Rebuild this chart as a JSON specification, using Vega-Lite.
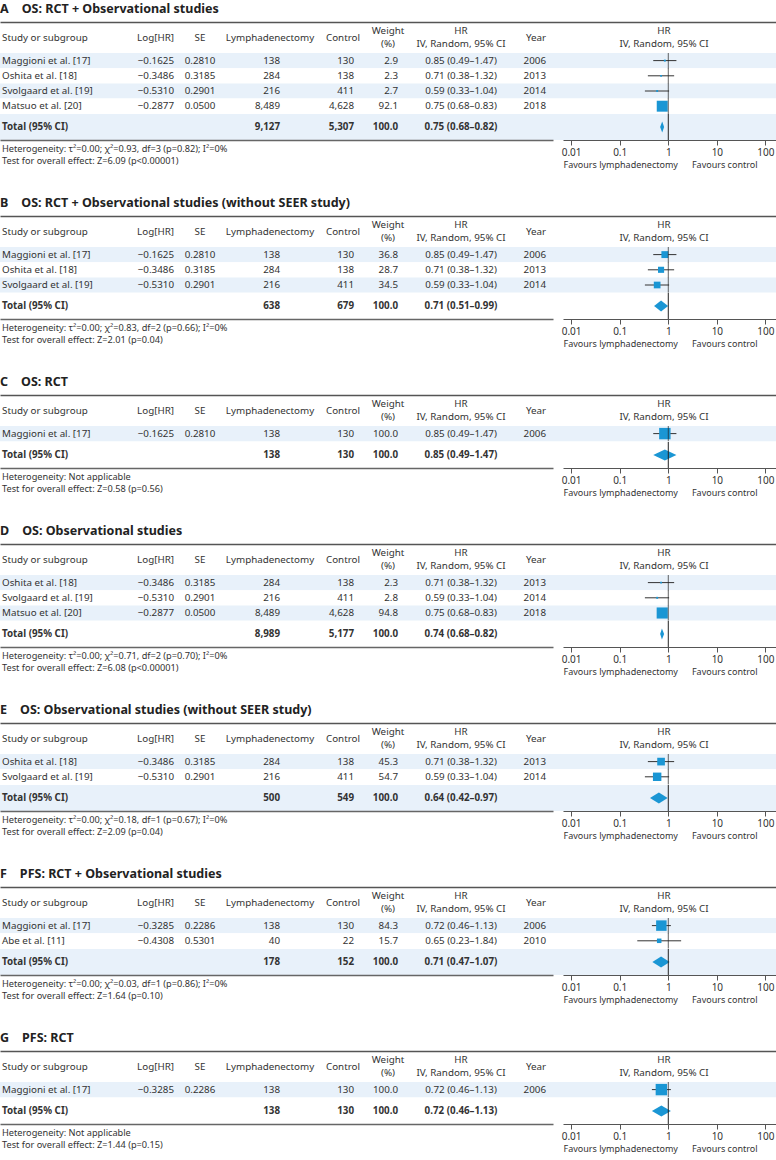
{
"$schema":"https://vega.github.io/schema/vega-lite/v6.json",
"padding":{"left":0,"top":2,"right":0,"bottom":0},
"background":"#ffffff",
"spacing":26,
"config":{
 "view":{"stroke":null},
 "text":{"font":"Noto Sans","fontSize":9.8,"color":"#333333","baseline":"middle","lineBreak":"\n","lineHeight":13},
 "title":{"font":"Noto Sans","fontSize":12.5,"fontWeight":"bold","color":"#222222","anchor":"start","offset":7},
 "axis":{"labelFont":"Noto Sans","titleFont":"Noto Sans","grid":false}
},
"datasets":{
 "hdr":[{"study":"Study or subgroup","loghr":"Log[HR]","se":"SE","n1":"Lymphadenectomy","n2":"Control","w":"Weight\n(%)","hrci":"HR\nIV, Random, 95% CI","year":"Year","plot":"HR\nIV, Random, 95% CI"}],
 "studies":[
  {"p":"A","i":1,"study":"Maggioni et al. [17]","loghr":-0.1625,"se":0.2810,"n1":138,"n2":130,"w":2.9,"hrci":"0.85 (0.49–1.47)","year":"2006","hr":0.85,"lo":0.49,"hi":1.47},
  {"p":"A","i":2,"study":"Oshita et al. [18]","loghr":-0.3486,"se":0.3185,"n1":284,"n2":138,"w":2.3,"hrci":"0.71 (0.38–1.32)","year":"2013","hr":0.71,"lo":0.38,"hi":1.32},
  {"p":"A","i":3,"study":"Svolgaard et al. [19]","loghr":-0.5310,"se":0.2901,"n1":216,"n2":411,"w":2.7,"hrci":"0.59 (0.33–1.04)","year":"2014","hr":0.59,"lo":0.33,"hi":1.04},
  {"p":"A","i":4,"study":"Matsuo et al. [20]","loghr":-0.2877,"se":0.0500,"n1":8489,"n2":4628,"w":92.1,"hrci":"0.75 (0.68–0.83)","year":"2018","hr":0.75,"lo":0.68,"hi":0.83},
  {"p":"B","i":1,"study":"Maggioni et al. [17]","loghr":-0.1625,"se":0.2810,"n1":138,"n2":130,"w":36.8,"hrci":"0.85 (0.49–1.47)","year":"2006","hr":0.85,"lo":0.49,"hi":1.47},
  {"p":"B","i":2,"study":"Oshita et al. [18]","loghr":-0.3486,"se":0.3185,"n1":284,"n2":138,"w":28.7,"hrci":"0.71 (0.38–1.32)","year":"2013","hr":0.71,"lo":0.38,"hi":1.32},
  {"p":"B","i":3,"study":"Svolgaard et al. [19]","loghr":-0.5310,"se":0.2901,"n1":216,"n2":411,"w":34.5,"hrci":"0.59 (0.33–1.04)","year":"2014","hr":0.59,"lo":0.33,"hi":1.04},
  {"p":"C","i":1,"study":"Maggioni et al. [17]","loghr":-0.1625,"se":0.2810,"n1":138,"n2":130,"w":100.0,"hrci":"0.85 (0.49–1.47)","year":"2006","hr":0.85,"lo":0.49,"hi":1.47},
  {"p":"D","i":1,"study":"Oshita et al. [18]","loghr":-0.3486,"se":0.3185,"n1":284,"n2":138,"w":2.3,"hrci":"0.71 (0.38–1.32)","year":"2013","hr":0.71,"lo":0.38,"hi":1.32},
  {"p":"D","i":2,"study":"Svolgaard et al. [19]","loghr":-0.5310,"se":0.2901,"n1":216,"n2":411,"w":2.8,"hrci":"0.59 (0.33–1.04)","year":"2014","hr":0.59,"lo":0.33,"hi":1.04},
  {"p":"D","i":3,"study":"Matsuo et al. [20]","loghr":-0.2877,"se":0.0500,"n1":8489,"n2":4628,"w":94.8,"hrci":"0.75 (0.68–0.83)","year":"2018","hr":0.75,"lo":0.68,"hi":0.83},
  {"p":"E","i":1,"study":"Oshita et al. [18]","loghr":-0.3486,"se":0.3185,"n1":284,"n2":138,"w":45.3,"hrci":"0.71 (0.38–1.32)","year":"2013","hr":0.71,"lo":0.38,"hi":1.32},
  {"p":"E","i":2,"study":"Svolgaard et al. [19]","loghr":-0.5310,"se":0.2901,"n1":216,"n2":411,"w":54.7,"hrci":"0.59 (0.33–1.04)","year":"2014","hr":0.59,"lo":0.33,"hi":1.04},
  {"p":"F","i":1,"study":"Maggioni et al. [17]","loghr":-0.3285,"se":0.2286,"n1":138,"n2":130,"w":84.3,"hrci":"0.72 (0.46–1.13)","year":"2006","hr":0.72,"lo":0.46,"hi":1.13},
  {"p":"F","i":2,"study":"Abe et al. [11]","loghr":-0.4308,"se":0.5301,"n1":40,"n2":22,"w":15.7,"hrci":"0.65 (0.23–1.84)","year":"2010","hr":0.65,"lo":0.23,"hi":1.84},
  {"p":"G","i":1,"study":"Maggioni et al. [17]","loghr":-0.3285,"se":0.2286,"n1":138,"n2":130,"w":100.0,"hrci":"0.72 (0.46–1.13)","year":"2006","hr":0.72,"lo":0.46,"hi":1.13}
 ],
 "totals":[
  {"p":"A","n1":9127,"n2":5307,"w":100,"hrci":"0.75 (0.68–0.82)","hr":0.75,"lo":0.68,"hi":0.82},
  {"p":"B","n1":638,"n2":679,"w":100,"hrci":"0.71 (0.51–0.99)","hr":0.71,"lo":0.51,"hi":0.99},
  {"p":"C","n1":138,"n2":130,"w":100,"hrci":"0.85 (0.49–1.47)","hr":0.85,"lo":0.49,"hi":1.47},
  {"p":"D","n1":8989,"n2":5177,"w":100,"hrci":"0.74 (0.68–0.82)","hr":0.74,"lo":0.68,"hi":0.82},
  {"p":"E","n1":500,"n2":549,"w":100,"hrci":"0.64 (0.42–0.97)","hr":0.64,"lo":0.42,"hi":0.97},
  {"p":"F","n1":178,"n2":152,"w":100,"hrci":"0.71 (0.47–1.07)","hr":0.71,"lo":0.47,"hi":1.07},
  {"p":"G","n1":138,"n2":130,"w":100,"hrci":"0.72 (0.46–1.13)","hr":0.72,"lo":0.46,"hi":1.13}
 ],
 "foot":[
  {"p":"A","het":"Heterogeneity: τ²=0.00; χ²=0.93, df=3 (p=0.82); I²=0%","test":"Test for overall effect: Z=6.09 (p<0.00001)"},
  {"p":"B","het":"Heterogeneity: τ²=0.00; χ²=0.83, df=2 (p=0.66); I²=0%","test":"Test for overall effect: Z=2.01 (p=0.04)"},
  {"p":"C","het":"Heterogeneity: Not applicable","test":"Test for overall effect: Z=0.58 (p=0.56)"},
  {"p":"D","het":"Heterogeneity: τ²=0.00; χ²=0.71, df=2 (p=0.70); I²=0%","test":"Test for overall effect: Z=6.08 (p<0.00001)"},
  {"p":"E","het":"Heterogeneity: τ²=0.00; χ²=0.18, df=1 (p=0.67); I²=0%","test":"Test for overall effect: Z=2.09 (p=0.04)"},
  {"p":"F","het":"Heterogeneity: τ²=0.00; χ²=0.03, df=1 (p=0.86); I²=0%","test":"Test for overall effect: Z=1.64 (p=0.10)"},
  {"p":"G","het":"Heterogeneity: Not applicable","test":"Test for overall effect: Z=1.44 (p=0.15)"}
 ]
},
"vconcat":[
{"spacing":0,"bounds":"flush","vconcat":[
 {"width":776,"height":31,"title":{"text":"A\u00a0\u00a0\u00a0\u00a0OS: RCT + Observational studies"},"data":{"name":"hdr"},"layer":[
  {"mark":{"type":"text","align":"left"},"encoding":{"x":{"datum":0,"type":"quantitative","scale":{"type":"linear","domain":[-1,0,1,2,3,4,5,6,7,8,9],"range":[0,2,174,200,280,354,398,461,546,664,776],"zero":false,"nice":false,"padding":0},"axis":{"orient":"top","domain":true,"labels":false,"ticks":false,"title":null,"domainColor":"#555555","domainWidth":1.5}},"text":{"field":"study"}}},
  {"mark":{"type":"text","align":"right"},"encoding":{"x":{"datum":1,"type":"quantitative"},"text":{"field":"loghr"}}},
  {"mark":{"type":"text","align":"center"},"encoding":{"x":{"datum":2,"type":"quantitative"},"text":{"field":"se"}}},
  {"mark":{"type":"text","align":"center","dx":-10},"encoding":{"x":{"datum":3,"type":"quantitative"},"text":{"field":"n1"}}},
  {"mark":{"type":"text","align":"right","dx":6},"encoding":{"x":{"datum":4,"type":"quantitative"},"text":{"field":"n2"}}},
  {"mark":{"type":"text","align":"center","dx":-10,"dy":-6.5},"encoding":{"x":{"datum":5,"type":"quantitative"},"text":{"field":"w"}}},
  {"mark":{"type":"text","align":"center","dy":-6.5},"encoding":{"x":{"datum":6,"type":"quantitative"},"text":{"field":"hrci"}}},
  {"mark":{"type":"text","align":"right"},"encoding":{"x":{"datum":7,"type":"quantitative"},"text":{"field":"year"}}},
  {"mark":{"type":"text","align":"center","dy":-6.5},"encoding":{"x":{"datum":8,"type":"quantitative"},"text":{"field":"plot"}}}
 ]},
 {"width":776,"height":{"step":15.2},"data":{"name":"studies"},"transform":[{"filter":"datum.p=='A'"}],
  "encoding":{"y":{"field":"study","type":"nominal","sort":null,"scale":{"type":"band","paddingInner":0,"paddingOuter":0},"axis":null}},
  "layer":[
   {"layer":[
    {"mark":{"type":"rect"},"encoding":{"x":{"datum":-1,"type":"quantitative","scale":{"type":"linear","domain":[-1,0,1,2,3,4,5,6,7,8,9],"range":[0,2,174,200,280,354,398,461,546,664,776],"zero":false,"nice":false,"padding":0},"axis":null},"x2":{"datum":9},"color":{"condition":{"test":"datum.i%2==1","value":"#e8f1fa"},"value":"#ffffff"}}},
    {"mark":{"type":"text","align":"left"},"encoding":{"x":{"datum":0,"type":"quantitative","axis":null},"text":{"field":"study"}}},
    {"mark":{"type":"text","align":"right"},"encoding":{"x":{"datum":1,"type":"quantitative","axis":null},"text":{"field":"loghr","type":"quantitative","format":".4f"}}},
    {"mark":{"type":"text","align":"center"},"encoding":{"x":{"datum":2,"type":"quantitative","axis":null},"text":{"field":"se","type":"quantitative","format":".4f"}}},
    {"mark":{"type":"text","align":"right"},"encoding":{"x":{"datum":3,"type":"quantitative","axis":null},"text":{"field":"n1","type":"quantitative","format":","}}},
    {"mark":{"type":"text","align":"right"},"encoding":{"x":{"datum":4,"type":"quantitative","axis":null},"text":{"field":"n2","type":"quantitative","format":","}}},
    {"mark":{"type":"text","align":"right"},"encoding":{"x":{"datum":5,"type":"quantitative","axis":null},"text":{"field":"w","type":"quantitative","format":".1f"}}},
    {"mark":{"type":"text","align":"center"},"encoding":{"x":{"datum":6,"type":"quantitative","axis":null},"text":{"field":"hrci"}}},
    {"mark":{"type":"text","align":"right"},"encoding":{"x":{"datum":7,"type":"quantitative","axis":null},"text":{"field":"year"}}}
   ]},
   {"layer":[
    {"mark":{"type":"rule","color":"#333333"},"encoding":{"x":{"field":"lo","type":"quantitative","scale":{"type":"log","domain":[0.0068,165],"range":[563,776],"nice":false,"padding":0},"axis":null},"x2":{"field":"hi"}}},
    {"mark":{"type":"point","shape":"square","filled":true,"opacity":1,"color":"#1a96d4","strokeWidth":0},"encoding":{"x":{"field":"hr","type":"quantitative","axis":null},"size":{"field":"w","type":"quantitative","scale":{"type":"linear","domain":[0,100],"range":[0,130]},"legend":null}}},
    {"mark":{"type":"tick","orient":"vertical","color":"#222222","thickness":1,"size":15.4},"encoding":{"x":{"datum":1,"type":"quantitative","axis":null}}}
   ]}
  ],
  "resolve":{"scale":{"x":"independent"}}},
 {"width":776,"height":26,"data":{"name":"totals"},"transform":[{"filter":"datum.p=='A'"}],
  "layer":[
   {"layer":[
    {"mark":{"type":"rect","color":"#e8f1fa"},"encoding":{"x":{"datum":-1,"type":"quantitative","axis":null},"x2":{"datum":9}}},
    {"mark":{"type":"text","align":"left","fontWeight":"bold"},"encoding":{"x":{"datum":0,"type":"quantitative","scale":{"type":"linear","domain":[-1,0,1,2,3,4,5,6,7,8,9],"range":[0,2,174,200,280,354,398,461,546,664,776],"zero":false,"nice":false,"padding":0},"axis":null},"text":{"value":"Total (95% CI)"}}},
    {"mark":{"type":"text","align":"right","fontWeight":"bold"},"encoding":{"x":{"datum":3,"type":"quantitative","axis":null},"text":{"field":"n1","type":"quantitative","format":","}}},
    {"mark":{"type":"text","align":"right","fontWeight":"bold"},"encoding":{"x":{"datum":4,"type":"quantitative","axis":null},"text":{"field":"n2","type":"quantitative","format":","}}},
    {"mark":{"type":"text","align":"right","fontWeight":"bold"},"encoding":{"x":{"datum":5,"type":"quantitative","axis":null},"text":{"field":"w","type":"quantitative","format":".1f"}}},
    {"mark":{"type":"text","align":"center","fontWeight":"bold"},"encoding":{"x":{"datum":6,"type":"quantitative","axis":null},"text":{"field":"hrci"}}}
   ]},
   {"layer":[
    {"transform":[{"fold":["lo","hr"],"as":["k","xa"]},{"fold":["hi","hr"],"as":["k2","xb"]},{"filter":"(datum.k=='lo'&&datum.k2=='hi')||(datum.k=='hr'&&datum.k2=='hr')"}],"mark":{"type":"area","orient":"horizontal","color":"#1a96d4","opacity":1},"encoding":{"y":{"field":"k","type":"nominal","scale":{"type":"point","domain":["hr","lo"],"range":[7.5,13],"padding":0},"axis":null},"x":{"field":"xa","type":"quantitative","scale":{"type":"log","domain":[0.0068,165],"range":[563,776],"nice":false,"padding":0}},"x2":{"field":"xb"}}},
    {"transform":[{"fold":["lo","hr"],"as":["k","xa"]},{"fold":["hi","hr"],"as":["k2","xb"]},{"filter":"(datum.k=='lo'&&datum.k2=='hi')||(datum.k=='hr'&&datum.k2=='hr')"}],"mark":{"type":"area","orient":"horizontal","color":"#1a96d4","opacity":1},"encoding":{"y":{"field":"k","type":"nominal","scale":{"type":"point","domain":["lo","hr"],"range":[13,18.5],"padding":0},"axis":null},"x":{"field":"xa","type":"quantitative"},"x2":{"field":"xb"}}},
    {"mark":{"type":"rule","color":"#222222"},"encoding":{"x":{"datum":1,"type":"quantitative","axis":{"orient":"bottom","values":[0.01,0.1,1,10,100],"format":"~g","domainColor":"#555555","domainWidth":1,"tickColor":"#555555","tickSize":5,"labelPadding":2,"labelFontSize":10,"labelColor":"#333333","labelFlush":false,"labelOverlap":false,"title":"Favours lymphadenectomy\u00a0\u00a0\u00a0\u00a0\u00a0\u00a0Favours control","titleFontSize":9,"titleFontWeight":"normal","titleColor":"#333333","titleAnchor":"start","titlePadding":3}}}}
   ],"resolve":{"scale":{"y":"independent"}}}
  ],
  "resolve":{"scale":{"x":"independent"}}},
 {"width":776,"height":30,"data":{"name":"foot"},"transform":[{"filter":"datum.p=='A'"}],
  "layer":[
   {"mark":{"type":"text","align":"left","fontSize":9.2},"encoding":{"x":{"datum":0,"type":"quantitative","scale":{"type":"linear","domain":[-1,0,1],"range":[0,2,553],"zero":false,"nice":false,"padding":0},"axis":{"orient":"top","domain":true,"labels":false,"ticks":false,"title":null,"domainColor":"#666666","domainWidth":1.5}},"y":{"datum":"het","type":"nominal","scale":{"type":"band","domain":["het","test"],"paddingInner":0,"paddingOuter":0.25},"axis":null},"text":{"field":"het"}}},
   {"mark":{"type":"text","align":"left","fontSize":9.2},"encoding":{"x":{"datum":0,"type":"quantitative"},"y":{"datum":"test","type":"nominal","axis":null},"text":{"field":"test"}}}
  ]}
]},
{"spacing":0,"bounds":"flush","vconcat":[
 {"width":776,"height":31,"title":{"text":"B\u00a0\u00a0\u00a0\u00a0OS: RCT + Observational studies (without SEER study)"},"data":{"name":"hdr"},"layer":[
  {"mark":{"type":"text","align":"left"},"encoding":{"x":{"datum":0,"type":"quantitative","scale":{"type":"linear","domain":[-1,0,1,2,3,4,5,6,7,8,9],"range":[0,2,174,200,280,354,398,461,546,664,776],"zero":false,"nice":false,"padding":0},"axis":{"orient":"top","domain":true,"labels":false,"ticks":false,"title":null,"domainColor":"#555555","domainWidth":1.5}},"text":{"field":"study"}}},
  {"mark":{"type":"text","align":"right"},"encoding":{"x":{"datum":1,"type":"quantitative"},"text":{"field":"loghr"}}},
  {"mark":{"type":"text","align":"center"},"encoding":{"x":{"datum":2,"type":"quantitative"},"text":{"field":"se"}}},
  {"mark":{"type":"text","align":"center","dx":-10},"encoding":{"x":{"datum":3,"type":"quantitative"},"text":{"field":"n1"}}},
  {"mark":{"type":"text","align":"right","dx":6},"encoding":{"x":{"datum":4,"type":"quantitative"},"text":{"field":"n2"}}},
  {"mark":{"type":"text","align":"center","dx":-10,"dy":-6.5},"encoding":{"x":{"datum":5,"type":"quantitative"},"text":{"field":"w"}}},
  {"mark":{"type":"text","align":"center","dy":-6.5},"encoding":{"x":{"datum":6,"type":"quantitative"},"text":{"field":"hrci"}}},
  {"mark":{"type":"text","align":"right"},"encoding":{"x":{"datum":7,"type":"quantitative"},"text":{"field":"year"}}},
  {"mark":{"type":"text","align":"center","dy":-6.5},"encoding":{"x":{"datum":8,"type":"quantitative"},"text":{"field":"plot"}}}
 ]},
 {"width":776,"height":{"step":15.2},"data":{"name":"studies"},"transform":[{"filter":"datum.p=='B'"}],
  "encoding":{"y":{"field":"study","type":"nominal","sort":null,"scale":{"type":"band","paddingInner":0,"paddingOuter":0},"axis":null}},
  "layer":[
   {"layer":[
    {"mark":{"type":"rect"},"encoding":{"x":{"datum":-1,"type":"quantitative","scale":{"type":"linear","domain":[-1,0,1,2,3,4,5,6,7,8,9],"range":[0,2,174,200,280,354,398,461,546,664,776],"zero":false,"nice":false,"padding":0},"axis":null},"x2":{"datum":9},"color":{"condition":{"test":"datum.i%2==1","value":"#e8f1fa"},"value":"#ffffff"}}},
    {"mark":{"type":"text","align":"left"},"encoding":{"x":{"datum":0,"type":"quantitative","axis":null},"text":{"field":"study"}}},
    {"mark":{"type":"text","align":"right"},"encoding":{"x":{"datum":1,"type":"quantitative","axis":null},"text":{"field":"loghr","type":"quantitative","format":".4f"}}},
    {"mark":{"type":"text","align":"center"},"encoding":{"x":{"datum":2,"type":"quantitative","axis":null},"text":{"field":"se","type":"quantitative","format":".4f"}}},
    {"mark":{"type":"text","align":"right"},"encoding":{"x":{"datum":3,"type":"quantitative","axis":null},"text":{"field":"n1","type":"quantitative","format":","}}},
    {"mark":{"type":"text","align":"right"},"encoding":{"x":{"datum":4,"type":"quantitative","axis":null},"text":{"field":"n2","type":"quantitative","format":","}}},
    {"mark":{"type":"text","align":"right"},"encoding":{"x":{"datum":5,"type":"quantitative","axis":null},"text":{"field":"w","type":"quantitative","format":".1f"}}},
    {"mark":{"type":"text","align":"center"},"encoding":{"x":{"datum":6,"type":"quantitative","axis":null},"text":{"field":"hrci"}}},
    {"mark":{"type":"text","align":"right"},"encoding":{"x":{"datum":7,"type":"quantitative","axis":null},"text":{"field":"year"}}}
   ]},
   {"layer":[
    {"mark":{"type":"rule","color":"#333333"},"encoding":{"x":{"field":"lo","type":"quantitative","scale":{"type":"log","domain":[0.0068,165],"range":[563,776],"nice":false,"padding":0},"axis":null},"x2":{"field":"hi"}}},
    {"mark":{"type":"point","shape":"square","filled":true,"opacity":1,"color":"#1a96d4","strokeWidth":0},"encoding":{"x":{"field":"hr","type":"quantitative","axis":null},"size":{"field":"w","type":"quantitative","scale":{"type":"linear","domain":[0,100],"range":[0,130]},"legend":null}}},
    {"mark":{"type":"tick","orient":"vertical","color":"#222222","thickness":1,"size":15.4},"encoding":{"x":{"datum":1,"type":"quantitative","axis":null}}}
   ]}
  ],
  "resolve":{"scale":{"x":"independent"}}},
 {"width":776,"height":26,"data":{"name":"totals"},"transform":[{"filter":"datum.p=='B'"}],
  "layer":[
   {"layer":[
    {"mark":{"type":"text","align":"left","fontWeight":"bold"},"encoding":{"x":{"datum":0,"type":"quantitative","scale":{"type":"linear","domain":[-1,0,1,2,3,4,5,6,7,8,9],"range":[0,2,174,200,280,354,398,461,546,664,776],"zero":false,"nice":false,"padding":0},"axis":null},"text":{"value":"Total (95% CI)"}}},
    {"mark":{"type":"text","align":"right","fontWeight":"bold"},"encoding":{"x":{"datum":3,"type":"quantitative","axis":null},"text":{"field":"n1","type":"quantitative","format":","}}},
    {"mark":{"type":"text","align":"right","fontWeight":"bold"},"encoding":{"x":{"datum":4,"type":"quantitative","axis":null},"text":{"field":"n2","type":"quantitative","format":","}}},
    {"mark":{"type":"text","align":"right","fontWeight":"bold"},"encoding":{"x":{"datum":5,"type":"quantitative","axis":null},"text":{"field":"w","type":"quantitative","format":".1f"}}},
    {"mark":{"type":"text","align":"center","fontWeight":"bold"},"encoding":{"x":{"datum":6,"type":"quantitative","axis":null},"text":{"field":"hrci"}}}
   ]},
   {"layer":[
    {"transform":[{"fold":["lo","hr"],"as":["k","xa"]},{"fold":["hi","hr"],"as":["k2","xb"]},{"filter":"(datum.k=='lo'&&datum.k2=='hi')||(datum.k=='hr'&&datum.k2=='hr')"}],"mark":{"type":"area","orient":"horizontal","color":"#1a96d4","opacity":1},"encoding":{"y":{"field":"k","type":"nominal","scale":{"type":"point","domain":["hr","lo"],"range":[7.5,13],"padding":0},"axis":null},"x":{"field":"xa","type":"quantitative","scale":{"type":"log","domain":[0.0068,165],"range":[563,776],"nice":false,"padding":0}},"x2":{"field":"xb"}}},
    {"transform":[{"fold":["lo","hr"],"as":["k","xa"]},{"fold":["hi","hr"],"as":["k2","xb"]},{"filter":"(datum.k=='lo'&&datum.k2=='hi')||(datum.k=='hr'&&datum.k2=='hr')"}],"mark":{"type":"area","orient":"horizontal","color":"#1a96d4","opacity":1},"encoding":{"y":{"field":"k","type":"nominal","scale":{"type":"point","domain":["lo","hr"],"range":[13,18.5],"padding":0},"axis":null},"x":{"field":"xa","type":"quantitative"},"x2":{"field":"xb"}}},
    {"mark":{"type":"rule","color":"#222222"},"encoding":{"x":{"datum":1,"type":"quantitative","axis":{"orient":"bottom","values":[0.01,0.1,1,10,100],"format":"~g","domainColor":"#555555","domainWidth":1,"tickColor":"#555555","tickSize":5,"labelPadding":2,"labelFontSize":10,"labelColor":"#333333","labelFlush":false,"labelOverlap":false,"title":"Favours lymphadenectomy\u00a0\u00a0\u00a0\u00a0\u00a0\u00a0Favours control","titleFontSize":9,"titleFontWeight":"normal","titleColor":"#333333","titleAnchor":"start","titlePadding":3}}}}
   ],"resolve":{"scale":{"y":"independent"}}}
  ],
  "resolve":{"scale":{"x":"independent"}}},
 {"width":776,"height":30,"data":{"name":"foot"},"transform":[{"filter":"datum.p=='B'"}],
  "layer":[
   {"mark":{"type":"text","align":"left","fontSize":9.2},"encoding":{"x":{"datum":0,"type":"quantitative","scale":{"type":"linear","domain":[-1,0,1],"range":[0,2,553],"zero":false,"nice":false,"padding":0},"axis":{"orient":"top","domain":true,"labels":false,"ticks":false,"title":null,"domainColor":"#666666","domainWidth":1.5}},"y":{"datum":"het","type":"nominal","scale":{"type":"band","domain":["het","test"],"paddingInner":0,"paddingOuter":0.25},"axis":null},"text":{"field":"het"}}},
   {"mark":{"type":"text","align":"left","fontSize":9.2},"encoding":{"x":{"datum":0,"type":"quantitative"},"y":{"datum":"test","type":"nominal","axis":null},"text":{"field":"test"}}}
  ]}
]},
{"spacing":0,"bounds":"flush","vconcat":[
 {"width":776,"height":31,"title":{"text":"C\u00a0\u00a0\u00a0\u00a0OS: RCT"},"data":{"name":"hdr"},"layer":[
  {"mark":{"type":"text","align":"left"},"encoding":{"x":{"datum":0,"type":"quantitative","scale":{"type":"linear","domain":[-1,0,1,2,3,4,5,6,7,8,9],"range":[0,2,174,200,280,354,398,461,546,664,776],"zero":false,"nice":false,"padding":0},"axis":{"orient":"top","domain":true,"labels":false,"ticks":false,"title":null,"domainColor":"#555555","domainWidth":1.5}},"text":{"field":"study"}}},
  {"mark":{"type":"text","align":"right"},"encoding":{"x":{"datum":1,"type":"quantitative"},"text":{"field":"loghr"}}},
  {"mark":{"type":"text","align":"center"},"encoding":{"x":{"datum":2,"type":"quantitative"},"text":{"field":"se"}}},
  {"mark":{"type":"text","align":"center","dx":-10},"encoding":{"x":{"datum":3,"type":"quantitative"},"text":{"field":"n1"}}},
  {"mark":{"type":"text","align":"right","dx":6},"encoding":{"x":{"datum":4,"type":"quantitative"},"text":{"field":"n2"}}},
  {"mark":{"type":"text","align":"center","dx":-10,"dy":-6.5},"encoding":{"x":{"datum":5,"type":"quantitative"},"text":{"field":"w"}}},
  {"mark":{"type":"text","align":"center","dy":-6.5},"encoding":{"x":{"datum":6,"type":"quantitative"},"text":{"field":"hrci"}}},
  {"mark":{"type":"text","align":"right"},"encoding":{"x":{"datum":7,"type":"quantitative"},"text":{"field":"year"}}},
  {"mark":{"type":"text","align":"center","dy":-6.5},"encoding":{"x":{"datum":8,"type":"quantitative"},"text":{"field":"plot"}}}
 ]},
 {"width":776,"height":{"step":15.2},"data":{"name":"studies"},"transform":[{"filter":"datum.p=='C'"}],
  "encoding":{"y":{"field":"study","type":"nominal","sort":null,"scale":{"type":"band","paddingInner":0,"paddingOuter":0},"axis":null}},
  "layer":[
   {"layer":[
    {"mark":{"type":"rect"},"encoding":{"x":{"datum":-1,"type":"quantitative","scale":{"type":"linear","domain":[-1,0,1,2,3,4,5,6,7,8,9],"range":[0,2,174,200,280,354,398,461,546,664,776],"zero":false,"nice":false,"padding":0},"axis":null},"x2":{"datum":9},"color":{"condition":{"test":"datum.i%2==1","value":"#e8f1fa"},"value":"#ffffff"}}},
    {"mark":{"type":"text","align":"left"},"encoding":{"x":{"datum":0,"type":"quantitative","axis":null},"text":{"field":"study"}}},
    {"mark":{"type":"text","align":"right"},"encoding":{"x":{"datum":1,"type":"quantitative","axis":null},"text":{"field":"loghr","type":"quantitative","format":".4f"}}},
    {"mark":{"type":"text","align":"center"},"encoding":{"x":{"datum":2,"type":"quantitative","axis":null},"text":{"field":"se","type":"quantitative","format":".4f"}}},
    {"mark":{"type":"text","align":"right"},"encoding":{"x":{"datum":3,"type":"quantitative","axis":null},"text":{"field":"n1","type":"quantitative","format":","}}},
    {"mark":{"type":"text","align":"right"},"encoding":{"x":{"datum":4,"type":"quantitative","axis":null},"text":{"field":"n2","type":"quantitative","format":","}}},
    {"mark":{"type":"text","align":"right"},"encoding":{"x":{"datum":5,"type":"quantitative","axis":null},"text":{"field":"w","type":"quantitative","format":".1f"}}},
    {"mark":{"type":"text","align":"center"},"encoding":{"x":{"datum":6,"type":"quantitative","axis":null},"text":{"field":"hrci"}}},
    {"mark":{"type":"text","align":"right"},"encoding":{"x":{"datum":7,"type":"quantitative","axis":null},"text":{"field":"year"}}}
   ]},
   {"layer":[
    {"mark":{"type":"rule","color":"#333333"},"encoding":{"x":{"field":"lo","type":"quantitative","scale":{"type":"log","domain":[0.0068,165],"range":[563,776],"nice":false,"padding":0},"axis":null},"x2":{"field":"hi"}}},
    {"mark":{"type":"point","shape":"square","filled":true,"opacity":1,"color":"#1a96d4","strokeWidth":0},"encoding":{"x":{"field":"hr","type":"quantitative","axis":null},"size":{"field":"w","type":"quantitative","scale":{"type":"linear","domain":[0,100],"range":[0,130]},"legend":null}}},
    {"mark":{"type":"tick","orient":"vertical","color":"#222222","thickness":1,"size":15.4},"encoding":{"x":{"datum":1,"type":"quantitative","axis":null}}}
   ]}
  ],
  "resolve":{"scale":{"x":"independent"}}},
 {"width":776,"height":26,"data":{"name":"totals"},"transform":[{"filter":"datum.p=='C'"}],
  "layer":[
   {"layer":[
    {"mark":{"type":"text","align":"left","fontWeight":"bold"},"encoding":{"x":{"datum":0,"type":"quantitative","scale":{"type":"linear","domain":[-1,0,1,2,3,4,5,6,7,8,9],"range":[0,2,174,200,280,354,398,461,546,664,776],"zero":false,"nice":false,"padding":0},"axis":null},"text":{"value":"Total (95% CI)"}}},
    {"mark":{"type":"text","align":"right","fontWeight":"bold"},"encoding":{"x":{"datum":3,"type":"quantitative","axis":null},"text":{"field":"n1","type":"quantitative","format":","}}},
    {"mark":{"type":"text","align":"right","fontWeight":"bold"},"encoding":{"x":{"datum":4,"type":"quantitative","axis":null},"text":{"field":"n2","type":"quantitative","format":","}}},
    {"mark":{"type":"text","align":"right","fontWeight":"bold"},"encoding":{"x":{"datum":5,"type":"quantitative","axis":null},"text":{"field":"w","type":"quantitative","format":".1f"}}},
    {"mark":{"type":"text","align":"center","fontWeight":"bold"},"encoding":{"x":{"datum":6,"type":"quantitative","axis":null},"text":{"field":"hrci"}}}
   ]},
   {"layer":[
    {"transform":[{"fold":["lo","hr"],"as":["k","xa"]},{"fold":["hi","hr"],"as":["k2","xb"]},{"filter":"(datum.k=='lo'&&datum.k2=='hi')||(datum.k=='hr'&&datum.k2=='hr')"}],"mark":{"type":"area","orient":"horizontal","color":"#1a96d4","opacity":1},"encoding":{"y":{"field":"k","type":"nominal","scale":{"type":"point","domain":["hr","lo"],"range":[7.5,13],"padding":0},"axis":null},"x":{"field":"xa","type":"quantitative","scale":{"type":"log","domain":[0.0068,165],"range":[563,776],"nice":false,"padding":0}},"x2":{"field":"xb"}}},
    {"transform":[{"fold":["lo","hr"],"as":["k","xa"]},{"fold":["hi","hr"],"as":["k2","xb"]},{"filter":"(datum.k=='lo'&&datum.k2=='hi')||(datum.k=='hr'&&datum.k2=='hr')"}],"mark":{"type":"area","orient":"horizontal","color":"#1a96d4","opacity":1},"encoding":{"y":{"field":"k","type":"nominal","scale":{"type":"point","domain":["lo","hr"],"range":[13,18.5],"padding":0},"axis":null},"x":{"field":"xa","type":"quantitative"},"x2":{"field":"xb"}}},
    {"mark":{"type":"rule","color":"#222222"},"encoding":{"x":{"datum":1,"type":"quantitative","axis":{"orient":"bottom","values":[0.01,0.1,1,10,100],"format":"~g","domainColor":"#555555","domainWidth":1,"tickColor":"#555555","tickSize":5,"labelPadding":2,"labelFontSize":10,"labelColor":"#333333","labelFlush":false,"labelOverlap":false,"title":"Favours lymphadenectomy\u00a0\u00a0\u00a0\u00a0\u00a0\u00a0Favours control","titleFontSize":9,"titleFontWeight":"normal","titleColor":"#333333","titleAnchor":"start","titlePadding":3}}}}
   ],"resolve":{"scale":{"y":"independent"}}}
  ],
  "resolve":{"scale":{"x":"independent"}}},
 {"width":776,"height":30,"data":{"name":"foot"},"transform":[{"filter":"datum.p=='C'"}],
  "layer":[
   {"mark":{"type":"text","align":"left","fontSize":9.2},"encoding":{"x":{"datum":0,"type":"quantitative","scale":{"type":"linear","domain":[-1,0,1],"range":[0,2,553],"zero":false,"nice":false,"padding":0},"axis":{"orient":"top","domain":true,"labels":false,"ticks":false,"title":null,"domainColor":"#666666","domainWidth":1.5}},"y":{"datum":"het","type":"nominal","scale":{"type":"band","domain":["het","test"],"paddingInner":0,"paddingOuter":0.25},"axis":null},"text":{"field":"het"}}},
   {"mark":{"type":"text","align":"left","fontSize":9.2},"encoding":{"x":{"datum":0,"type":"quantitative"},"y":{"datum":"test","type":"nominal","axis":null},"text":{"field":"test"}}}
  ]}
]},
{"spacing":0,"bounds":"flush","vconcat":[
 {"width":776,"height":31,"title":{"text":"D\u00a0\u00a0\u00a0\u00a0OS: Observational studies"},"data":{"name":"hdr"},"layer":[
  {"mark":{"type":"text","align":"left"},"encoding":{"x":{"datum":0,"type":"quantitative","scale":{"type":"linear","domain":[-1,0,1,2,3,4,5,6,7,8,9],"range":[0,2,174,200,280,354,398,461,546,664,776],"zero":false,"nice":false,"padding":0},"axis":{"orient":"top","domain":true,"labels":false,"ticks":false,"title":null,"domainColor":"#555555","domainWidth":1.5}},"text":{"field":"study"}}},
  {"mark":{"type":"text","align":"right"},"encoding":{"x":{"datum":1,"type":"quantitative"},"text":{"field":"loghr"}}},
  {"mark":{"type":"text","align":"center"},"encoding":{"x":{"datum":2,"type":"quantitative"},"text":{"field":"se"}}},
  {"mark":{"type":"text","align":"center","dx":-10},"encoding":{"x":{"datum":3,"type":"quantitative"},"text":{"field":"n1"}}},
  {"mark":{"type":"text","align":"right","dx":6},"encoding":{"x":{"datum":4,"type":"quantitative"},"text":{"field":"n2"}}},
  {"mark":{"type":"text","align":"center","dx":-10,"dy":-6.5},"encoding":{"x":{"datum":5,"type":"quantitative"},"text":{"field":"w"}}},
  {"mark":{"type":"text","align":"center","dy":-6.5},"encoding":{"x":{"datum":6,"type":"quantitative"},"text":{"field":"hrci"}}},
  {"mark":{"type":"text","align":"right"},"encoding":{"x":{"datum":7,"type":"quantitative"},"text":{"field":"year"}}},
  {"mark":{"type":"text","align":"center","dy":-6.5},"encoding":{"x":{"datum":8,"type":"quantitative"},"text":{"field":"plot"}}}
 ]},
 {"width":776,"height":{"step":15.2},"data":{"name":"studies"},"transform":[{"filter":"datum.p=='D'"}],
  "encoding":{"y":{"field":"study","type":"nominal","sort":null,"scale":{"type":"band","paddingInner":0,"paddingOuter":0},"axis":null}},
  "layer":[
   {"layer":[
    {"mark":{"type":"rect"},"encoding":{"x":{"datum":-1,"type":"quantitative","scale":{"type":"linear","domain":[-1,0,1,2,3,4,5,6,7,8,9],"range":[0,2,174,200,280,354,398,461,546,664,776],"zero":false,"nice":false,"padding":0},"axis":null},"x2":{"datum":9},"color":{"condition":{"test":"datum.i%2==1","value":"#e8f1fa"},"value":"#ffffff"}}},
    {"mark":{"type":"text","align":"left"},"encoding":{"x":{"datum":0,"type":"quantitative","axis":null},"text":{"field":"study"}}},
    {"mark":{"type":"text","align":"right"},"encoding":{"x":{"datum":1,"type":"quantitative","axis":null},"text":{"field":"loghr","type":"quantitative","format":".4f"}}},
    {"mark":{"type":"text","align":"center"},"encoding":{"x":{"datum":2,"type":"quantitative","axis":null},"text":{"field":"se","type":"quantitative","format":".4f"}}},
    {"mark":{"type":"text","align":"right"},"encoding":{"x":{"datum":3,"type":"quantitative","axis":null},"text":{"field":"n1","type":"quantitative","format":","}}},
    {"mark":{"type":"text","align":"right"},"encoding":{"x":{"datum":4,"type":"quantitative","axis":null},"text":{"field":"n2","type":"quantitative","format":","}}},
    {"mark":{"type":"text","align":"right"},"encoding":{"x":{"datum":5,"type":"quantitative","axis":null},"text":{"field":"w","type":"quantitative","format":".1f"}}},
    {"mark":{"type":"text","align":"center"},"encoding":{"x":{"datum":6,"type":"quantitative","axis":null},"text":{"field":"hrci"}}},
    {"mark":{"type":"text","align":"right"},"encoding":{"x":{"datum":7,"type":"quantitative","axis":null},"text":{"field":"year"}}}
   ]},
   {"layer":[
    {"mark":{"type":"rule","color":"#333333"},"encoding":{"x":{"field":"lo","type":"quantitative","scale":{"type":"log","domain":[0.0068,165],"range":[563,776],"nice":false,"padding":0},"axis":null},"x2":{"field":"hi"}}},
    {"mark":{"type":"point","shape":"square","filled":true,"opacity":1,"color":"#1a96d4","strokeWidth":0},"encoding":{"x":{"field":"hr","type":"quantitative","axis":null},"size":{"field":"w","type":"quantitative","scale":{"type":"linear","domain":[0,100],"range":[0,130]},"legend":null}}},
    {"mark":{"type":"tick","orient":"vertical","color":"#222222","thickness":1,"size":15.4},"encoding":{"x":{"datum":1,"type":"quantitative","axis":null}}}
   ]}
  ],
  "resolve":{"scale":{"x":"independent"}}},
 {"width":776,"height":26,"data":{"name":"totals"},"transform":[{"filter":"datum.p=='D'"}],
  "layer":[
   {"layer":[
    {"mark":{"type":"text","align":"left","fontWeight":"bold"},"encoding":{"x":{"datum":0,"type":"quantitative","scale":{"type":"linear","domain":[-1,0,1,2,3,4,5,6,7,8,9],"range":[0,2,174,200,280,354,398,461,546,664,776],"zero":false,"nice":false,"padding":0},"axis":null},"text":{"value":"Total (95% CI)"}}},
    {"mark":{"type":"text","align":"right","fontWeight":"bold"},"encoding":{"x":{"datum":3,"type":"quantitative","axis":null},"text":{"field":"n1","type":"quantitative","format":","}}},
    {"mark":{"type":"text","align":"right","fontWeight":"bold"},"encoding":{"x":{"datum":4,"type":"quantitative","axis":null},"text":{"field":"n2","type":"quantitative","format":","}}},
    {"mark":{"type":"text","align":"right","fontWeight":"bold"},"encoding":{"x":{"datum":5,"type":"quantitative","axis":null},"text":{"field":"w","type":"quantitative","format":".1f"}}},
    {"mark":{"type":"text","align":"center","fontWeight":"bold"},"encoding":{"x":{"datum":6,"type":"quantitative","axis":null},"text":{"field":"hrci"}}}
   ]},
   {"layer":[
    {"transform":[{"fold":["lo","hr"],"as":["k","xa"]},{"fold":["hi","hr"],"as":["k2","xb"]},{"filter":"(datum.k=='lo'&&datum.k2=='hi')||(datum.k=='hr'&&datum.k2=='hr')"}],"mark":{"type":"area","orient":"horizontal","color":"#1a96d4","opacity":1},"encoding":{"y":{"field":"k","type":"nominal","scale":{"type":"point","domain":["hr","lo"],"range":[7.5,13],"padding":0},"axis":null},"x":{"field":"xa","type":"quantitative","scale":{"type":"log","domain":[0.0068,165],"range":[563,776],"nice":false,"padding":0}},"x2":{"field":"xb"}}},
    {"transform":[{"fold":["lo","hr"],"as":["k","xa"]},{"fold":["hi","hr"],"as":["k2","xb"]},{"filter":"(datum.k=='lo'&&datum.k2=='hi')||(datum.k=='hr'&&datum.k2=='hr')"}],"mark":{"type":"area","orient":"horizontal","color":"#1a96d4","opacity":1},"encoding":{"y":{"field":"k","type":"nominal","scale":{"type":"point","domain":["lo","hr"],"range":[13,18.5],"padding":0},"axis":null},"x":{"field":"xa","type":"quantitative"},"x2":{"field":"xb"}}},
    {"mark":{"type":"rule","color":"#222222"},"encoding":{"x":{"datum":1,"type":"quantitative","axis":{"orient":"bottom","values":[0.01,0.1,1,10,100],"format":"~g","domainColor":"#555555","domainWidth":1,"tickColor":"#555555","tickSize":5,"labelPadding":2,"labelFontSize":10,"labelColor":"#333333","labelFlush":false,"labelOverlap":false,"title":"Favours lymphadenectomy\u00a0\u00a0\u00a0\u00a0\u00a0\u00a0Favours control","titleFontSize":9,"titleFontWeight":"normal","titleColor":"#333333","titleAnchor":"start","titlePadding":3}}}}
   ],"resolve":{"scale":{"y":"independent"}}}
  ],
  "resolve":{"scale":{"x":"independent"}}},
 {"width":776,"height":30,"data":{"name":"foot"},"transform":[{"filter":"datum.p=='D'"}],
  "layer":[
   {"mark":{"type":"text","align":"left","fontSize":9.2},"encoding":{"x":{"datum":0,"type":"quantitative","scale":{"type":"linear","domain":[-1,0,1],"range":[0,2,553],"zero":false,"nice":false,"padding":0},"axis":{"orient":"top","domain":true,"labels":false,"ticks":false,"title":null,"domainColor":"#666666","domainWidth":1.5}},"y":{"datum":"het","type":"nominal","scale":{"type":"band","domain":["het","test"],"paddingInner":0,"paddingOuter":0.25},"axis":null},"text":{"field":"het"}}},
   {"mark":{"type":"text","align":"left","fontSize":9.2},"encoding":{"x":{"datum":0,"type":"quantitative"},"y":{"datum":"test","type":"nominal","axis":null},"text":{"field":"test"}}}
  ]}
]},
{"spacing":0,"bounds":"flush","vconcat":[
 {"width":776,"height":31,"title":{"text":"E\u00a0\u00a0\u00a0\u00a0OS: Observational studies (without SEER study)"},"data":{"name":"hdr"},"layer":[
  {"mark":{"type":"text","align":"left"},"encoding":{"x":{"datum":0,"type":"quantitative","scale":{"type":"linear","domain":[-1,0,1,2,3,4,5,6,7,8,9],"range":[0,2,174,200,280,354,398,461,546,664,776],"zero":false,"nice":false,"padding":0},"axis":{"orient":"top","domain":true,"labels":false,"ticks":false,"title":null,"domainColor":"#555555","domainWidth":1.5}},"text":{"field":"study"}}},
  {"mark":{"type":"text","align":"right"},"encoding":{"x":{"datum":1,"type":"quantitative"},"text":{"field":"loghr"}}},
  {"mark":{"type":"text","align":"center"},"encoding":{"x":{"datum":2,"type":"quantitative"},"text":{"field":"se"}}},
  {"mark":{"type":"text","align":"center","dx":-10},"encoding":{"x":{"datum":3,"type":"quantitative"},"text":{"field":"n1"}}},
  {"mark":{"type":"text","align":"right","dx":6},"encoding":{"x":{"datum":4,"type":"quantitative"},"text":{"field":"n2"}}},
  {"mark":{"type":"text","align":"center","dx":-10,"dy":-6.5},"encoding":{"x":{"datum":5,"type":"quantitative"},"text":{"field":"w"}}},
  {"mark":{"type":"text","align":"center","dy":-6.5},"encoding":{"x":{"datum":6,"type":"quantitative"},"text":{"field":"hrci"}}},
  {"mark":{"type":"text","align":"right"},"encoding":{"x":{"datum":7,"type":"quantitative"},"text":{"field":"year"}}},
  {"mark":{"type":"text","align":"center","dy":-6.5},"encoding":{"x":{"datum":8,"type":"quantitative"},"text":{"field":"plot"}}}
 ]},
 {"width":776,"height":{"step":15.2},"data":{"name":"studies"},"transform":[{"filter":"datum.p=='E'"}],
  "encoding":{"y":{"field":"study","type":"nominal","sort":null,"scale":{"type":"band","paddingInner":0,"paddingOuter":0},"axis":null}},
  "layer":[
   {"layer":[
    {"mark":{"type":"rect"},"encoding":{"x":{"datum":-1,"type":"quantitative","scale":{"type":"linear","domain":[-1,0,1,2,3,4,5,6,7,8,9],"range":[0,2,174,200,280,354,398,461,546,664,776],"zero":false,"nice":false,"padding":0},"axis":null},"x2":{"datum":9},"color":{"condition":{"test":"datum.i%2==1","value":"#e8f1fa"},"value":"#ffffff"}}},
    {"mark":{"type":"text","align":"left"},"encoding":{"x":{"datum":0,"type":"quantitative","axis":null},"text":{"field":"study"}}},
    {"mark":{"type":"text","align":"right"},"encoding":{"x":{"datum":1,"type":"quantitative","axis":null},"text":{"field":"loghr","type":"quantitative","format":".4f"}}},
    {"mark":{"type":"text","align":"center"},"encoding":{"x":{"datum":2,"type":"quantitative","axis":null},"text":{"field":"se","type":"quantitative","format":".4f"}}},
    {"mark":{"type":"text","align":"right"},"encoding":{"x":{"datum":3,"type":"quantitative","axis":null},"text":{"field":"n1","type":"quantitative","format":","}}},
    {"mark":{"type":"text","align":"right"},"encoding":{"x":{"datum":4,"type":"quantitative","axis":null},"text":{"field":"n2","type":"quantitative","format":","}}},
    {"mark":{"type":"text","align":"right"},"encoding":{"x":{"datum":5,"type":"quantitative","axis":null},"text":{"field":"w","type":"quantitative","format":".1f"}}},
    {"mark":{"type":"text","align":"center"},"encoding":{"x":{"datum":6,"type":"quantitative","axis":null},"text":{"field":"hrci"}}},
    {"mark":{"type":"text","align":"right"},"encoding":{"x":{"datum":7,"type":"quantitative","axis":null},"text":{"field":"year"}}}
   ]},
   {"layer":[
    {"mark":{"type":"rule","color":"#333333"},"encoding":{"x":{"field":"lo","type":"quantitative","scale":{"type":"log","domain":[0.0068,165],"range":[563,776],"nice":false,"padding":0},"axis":null},"x2":{"field":"hi"}}},
    {"mark":{"type":"point","shape":"square","filled":true,"opacity":1,"color":"#1a96d4","strokeWidth":0},"encoding":{"x":{"field":"hr","type":"quantitative","axis":null},"size":{"field":"w","type":"quantitative","scale":{"type":"linear","domain":[0,100],"range":[0,130]},"legend":null}}},
    {"mark":{"type":"tick","orient":"vertical","color":"#222222","thickness":1,"size":15.4},"encoding":{"x":{"datum":1,"type":"quantitative","axis":null}}}
   ]}
  ],
  "resolve":{"scale":{"x":"independent"}}},
 {"width":776,"height":26,"data":{"name":"totals"},"transform":[{"filter":"datum.p=='E'"}],
  "layer":[
   {"layer":[
    {"mark":{"type":"rect","color":"#e8f1fa"},"encoding":{"x":{"datum":-1,"type":"quantitative","axis":null},"x2":{"datum":9}}},
    {"mark":{"type":"text","align":"left","fontWeight":"bold"},"encoding":{"x":{"datum":0,"type":"quantitative","scale":{"type":"linear","domain":[-1,0,1,2,3,4,5,6,7,8,9],"range":[0,2,174,200,280,354,398,461,546,664,776],"zero":false,"nice":false,"padding":0},"axis":null},"text":{"value":"Total (95% CI)"}}},
    {"mark":{"type":"text","align":"right","fontWeight":"bold"},"encoding":{"x":{"datum":3,"type":"quantitative","axis":null},"text":{"field":"n1","type":"quantitative","format":","}}},
    {"mark":{"type":"text","align":"right","fontWeight":"bold"},"encoding":{"x":{"datum":4,"type":"quantitative","axis":null},"text":{"field":"n2","type":"quantitative","format":","}}},
    {"mark":{"type":"text","align":"right","fontWeight":"bold"},"encoding":{"x":{"datum":5,"type":"quantitative","axis":null},"text":{"field":"w","type":"quantitative","format":".1f"}}},
    {"mark":{"type":"text","align":"center","fontWeight":"bold"},"encoding":{"x":{"datum":6,"type":"quantitative","axis":null},"text":{"field":"hrci"}}}
   ]},
   {"layer":[
    {"transform":[{"fold":["lo","hr"],"as":["k","xa"]},{"fold":["hi","hr"],"as":["k2","xb"]},{"filter":"(datum.k=='lo'&&datum.k2=='hi')||(datum.k=='hr'&&datum.k2=='hr')"}],"mark":{"type":"area","orient":"horizontal","color":"#1a96d4","opacity":1},"encoding":{"y":{"field":"k","type":"nominal","scale":{"type":"point","domain":["hr","lo"],"range":[7.5,13],"padding":0},"axis":null},"x":{"field":"xa","type":"quantitative","scale":{"type":"log","domain":[0.0068,165],"range":[563,776],"nice":false,"padding":0}},"x2":{"field":"xb"}}},
    {"transform":[{"fold":["lo","hr"],"as":["k","xa"]},{"fold":["hi","hr"],"as":["k2","xb"]},{"filter":"(datum.k=='lo'&&datum.k2=='hi')||(datum.k=='hr'&&datum.k2=='hr')"}],"mark":{"type":"area","orient":"horizontal","color":"#1a96d4","opacity":1},"encoding":{"y":{"field":"k","type":"nominal","scale":{"type":"point","domain":["lo","hr"],"range":[13,18.5],"padding":0},"axis":null},"x":{"field":"xa","type":"quantitative"},"x2":{"field":"xb"}}},
    {"mark":{"type":"rule","color":"#222222"},"encoding":{"x":{"datum":1,"type":"quantitative","axis":{"orient":"bottom","values":[0.01,0.1,1,10,100],"format":"~g","domainColor":"#555555","domainWidth":1,"tickColor":"#555555","tickSize":5,"labelPadding":2,"labelFontSize":10,"labelColor":"#333333","labelFlush":false,"labelOverlap":false,"title":"Favours lymphadenectomy\u00a0\u00a0\u00a0\u00a0\u00a0\u00a0Favours control","titleFontSize":9,"titleFontWeight":"normal","titleColor":"#333333","titleAnchor":"start","titlePadding":3}}}}
   ],"resolve":{"scale":{"y":"independent"}}}
  ],
  "resolve":{"scale":{"x":"independent"}}},
 {"width":776,"height":30,"data":{"name":"foot"},"transform":[{"filter":"datum.p=='E'"}],
  "layer":[
   {"mark":{"type":"text","align":"left","fontSize":9.2},"encoding":{"x":{"datum":0,"type":"quantitative","scale":{"type":"linear","domain":[-1,0,1],"range":[0,2,553],"zero":false,"nice":false,"padding":0},"axis":{"orient":"top","domain":true,"labels":false,"ticks":false,"title":null,"domainColor":"#666666","domainWidth":1.5}},"y":{"datum":"het","type":"nominal","scale":{"type":"band","domain":["het","test"],"paddingInner":0,"paddingOuter":0.25},"axis":null},"text":{"field":"het"}}},
   {"mark":{"type":"text","align":"left","fontSize":9.2},"encoding":{"x":{"datum":0,"type":"quantitative"},"y":{"datum":"test","type":"nominal","axis":null},"text":{"field":"test"}}}
  ]}
]},
{"spacing":0,"bounds":"flush","vconcat":[
 {"width":776,"height":31,"title":{"text":"F\u00a0\u00a0\u00a0\u00a0PFS: RCT + Observational studies"},"data":{"name":"hdr"},"layer":[
  {"mark":{"type":"text","align":"left"},"encoding":{"x":{"datum":0,"type":"quantitative","scale":{"type":"linear","domain":[-1,0,1,2,3,4,5,6,7,8,9],"range":[0,2,174,200,280,354,398,461,546,664,776],"zero":false,"nice":false,"padding":0},"axis":{"orient":"top","domain":true,"labels":false,"ticks":false,"title":null,"domainColor":"#555555","domainWidth":1.5}},"text":{"field":"study"}}},
  {"mark":{"type":"text","align":"right"},"encoding":{"x":{"datum":1,"type":"quantitative"},"text":{"field":"loghr"}}},
  {"mark":{"type":"text","align":"center"},"encoding":{"x":{"datum":2,"type":"quantitative"},"text":{"field":"se"}}},
  {"mark":{"type":"text","align":"center","dx":-10},"encoding":{"x":{"datum":3,"type":"quantitative"},"text":{"field":"n1"}}},
  {"mark":{"type":"text","align":"right","dx":6},"encoding":{"x":{"datum":4,"type":"quantitative"},"text":{"field":"n2"}}},
  {"mark":{"type":"text","align":"center","dx":-10,"dy":-6.5},"encoding":{"x":{"datum":5,"type":"quantitative"},"text":{"field":"w"}}},
  {"mark":{"type":"text","align":"center","dy":-6.5},"encoding":{"x":{"datum":6,"type":"quantitative"},"text":{"field":"hrci"}}},
  {"mark":{"type":"text","align":"right"},"encoding":{"x":{"datum":7,"type":"quantitative"},"text":{"field":"year"}}},
  {"mark":{"type":"text","align":"center","dy":-6.5},"encoding":{"x":{"datum":8,"type":"quantitative"},"text":{"field":"plot"}}}
 ]},
 {"width":776,"height":{"step":15.2},"data":{"name":"studies"},"transform":[{"filter":"datum.p=='F'"}],
  "encoding":{"y":{"field":"study","type":"nominal","sort":null,"scale":{"type":"band","paddingInner":0,"paddingOuter":0},"axis":null}},
  "layer":[
   {"layer":[
    {"mark":{"type":"rect"},"encoding":{"x":{"datum":-1,"type":"quantitative","scale":{"type":"linear","domain":[-1,0,1,2,3,4,5,6,7,8,9],"range":[0,2,174,200,280,354,398,461,546,664,776],"zero":false,"nice":false,"padding":0},"axis":null},"x2":{"datum":9},"color":{"condition":{"test":"datum.i%2==1","value":"#e8f1fa"},"value":"#ffffff"}}},
    {"mark":{"type":"text","align":"left"},"encoding":{"x":{"datum":0,"type":"quantitative","axis":null},"text":{"field":"study"}}},
    {"mark":{"type":"text","align":"right"},"encoding":{"x":{"datum":1,"type":"quantitative","axis":null},"text":{"field":"loghr","type":"quantitative","format":".4f"}}},
    {"mark":{"type":"text","align":"center"},"encoding":{"x":{"datum":2,"type":"quantitative","axis":null},"text":{"field":"se","type":"quantitative","format":".4f"}}},
    {"mark":{"type":"text","align":"right"},"encoding":{"x":{"datum":3,"type":"quantitative","axis":null},"text":{"field":"n1","type":"quantitative","format":","}}},
    {"mark":{"type":"text","align":"right"},"encoding":{"x":{"datum":4,"type":"quantitative","axis":null},"text":{"field":"n2","type":"quantitative","format":","}}},
    {"mark":{"type":"text","align":"right"},"encoding":{"x":{"datum":5,"type":"quantitative","axis":null},"text":{"field":"w","type":"quantitative","format":".1f"}}},
    {"mark":{"type":"text","align":"center"},"encoding":{"x":{"datum":6,"type":"quantitative","axis":null},"text":{"field":"hrci"}}},
    {"mark":{"type":"text","align":"right"},"encoding":{"x":{"datum":7,"type":"quantitative","axis":null},"text":{"field":"year"}}}
   ]},
   {"layer":[
    {"mark":{"type":"rule","color":"#333333"},"encoding":{"x":{"field":"lo","type":"quantitative","scale":{"type":"log","domain":[0.0068,165],"range":[563,776],"nice":false,"padding":0},"axis":null},"x2":{"field":"hi"}}},
    {"mark":{"type":"point","shape":"square","filled":true,"opacity":1,"color":"#1a96d4","strokeWidth":0},"encoding":{"x":{"field":"hr","type":"quantitative","axis":null},"size":{"field":"w","type":"quantitative","scale":{"type":"linear","domain":[0,100],"range":[0,130]},"legend":null}}},
    {"mark":{"type":"tick","orient":"vertical","color":"#222222","thickness":1,"size":15.4},"encoding":{"x":{"datum":1,"type":"quantitative","axis":null}}}
   ]}
  ],
  "resolve":{"scale":{"x":"independent"}}},
 {"width":776,"height":26,"data":{"name":"totals"},"transform":[{"filter":"datum.p=='F'"}],
  "layer":[
   {"layer":[
    {"mark":{"type":"rect","color":"#e8f1fa"},"encoding":{"x":{"datum":-1,"type":"quantitative","axis":null},"x2":{"datum":9}}},
    {"mark":{"type":"text","align":"left","fontWeight":"bold"},"encoding":{"x":{"datum":0,"type":"quantitative","scale":{"type":"linear","domain":[-1,0,1,2,3,4,5,6,7,8,9],"range":[0,2,174,200,280,354,398,461,546,664,776],"zero":false,"nice":false,"padding":0},"axis":null},"text":{"value":"Total (95% CI)"}}},
    {"mark":{"type":"text","align":"right","fontWeight":"bold"},"encoding":{"x":{"datum":3,"type":"quantitative","axis":null},"text":{"field":"n1","type":"quantitative","format":","}}},
    {"mark":{"type":"text","align":"right","fontWeight":"bold"},"encoding":{"x":{"datum":4,"type":"quantitative","axis":null},"text":{"field":"n2","type":"quantitative","format":","}}},
    {"mark":{"type":"text","align":"right","fontWeight":"bold"},"encoding":{"x":{"datum":5,"type":"quantitative","axis":null},"text":{"field":"w","type":"quantitative","format":".1f"}}},
    {"mark":{"type":"text","align":"center","fontWeight":"bold"},"encoding":{"x":{"datum":6,"type":"quantitative","axis":null},"text":{"field":"hrci"}}}
   ]},
   {"layer":[
    {"transform":[{"fold":["lo","hr"],"as":["k","xa"]},{"fold":["hi","hr"],"as":["k2","xb"]},{"filter":"(datum.k=='lo'&&datum.k2=='hi')||(datum.k=='hr'&&datum.k2=='hr')"}],"mark":{"type":"area","orient":"horizontal","color":"#1a96d4","opacity":1},"encoding":{"y":{"field":"k","type":"nominal","scale":{"type":"point","domain":["hr","lo"],"range":[7.5,13],"padding":0},"axis":null},"x":{"field":"xa","type":"quantitative","scale":{"type":"log","domain":[0.0068,165],"range":[563,776],"nice":false,"padding":0}},"x2":{"field":"xb"}}},
    {"transform":[{"fold":["lo","hr"],"as":["k","xa"]},{"fold":["hi","hr"],"as":["k2","xb"]},{"filter":"(datum.k=='lo'&&datum.k2=='hi')||(datum.k=='hr'&&datum.k2=='hr')"}],"mark":{"type":"area","orient":"horizontal","color":"#1a96d4","opacity":1},"encoding":{"y":{"field":"k","type":"nominal","scale":{"type":"point","domain":["lo","hr"],"range":[13,18.5],"padding":0},"axis":null},"x":{"field":"xa","type":"quantitative"},"x2":{"field":"xb"}}},
    {"mark":{"type":"rule","color":"#222222"},"encoding":{"x":{"datum":1,"type":"quantitative","axis":{"orient":"bottom","values":[0.01,0.1,1,10,100],"format":"~g","domainColor":"#555555","domainWidth":1,"tickColor":"#555555","tickSize":5,"labelPadding":2,"labelFontSize":10,"labelColor":"#333333","labelFlush":false,"labelOverlap":false,"title":"Favours lymphadenectomy\u00a0\u00a0\u00a0\u00a0\u00a0\u00a0Favours control","titleFontSize":9,"titleFontWeight":"normal","titleColor":"#333333","titleAnchor":"start","titlePadding":3}}}}
   ],"resolve":{"scale":{"y":"independent"}}}
  ],
  "resolve":{"scale":{"x":"independent"}}},
 {"width":776,"height":30,"data":{"name":"foot"},"transform":[{"filter":"datum.p=='F'"}],
  "layer":[
   {"mark":{"type":"text","align":"left","fontSize":9.2},"encoding":{"x":{"datum":0,"type":"quantitative","scale":{"type":"linear","domain":[-1,0,1],"range":[0,2,553],"zero":false,"nice":false,"padding":0},"axis":{"orient":"top","domain":true,"labels":false,"ticks":false,"title":null,"domainColor":"#666666","domainWidth":1.5}},"y":{"datum":"het","type":"nominal","scale":{"type":"band","domain":["het","test"],"paddingInner":0,"paddingOuter":0.25},"axis":null},"text":{"field":"het"}}},
   {"mark":{"type":"text","align":"left","fontSize":9.2},"encoding":{"x":{"datum":0,"type":"quantitative"},"y":{"datum":"test","type":"nominal","axis":null},"text":{"field":"test"}}}
  ]}
]},
{"spacing":0,"bounds":"flush","vconcat":[
 {"width":776,"height":31,"title":{"text":"G\u00a0\u00a0\u00a0\u00a0PFS: RCT"},"data":{"name":"hdr"},"layer":[
  {"mark":{"type":"text","align":"left"},"encoding":{"x":{"datum":0,"type":"quantitative","scale":{"type":"linear","domain":[-1,0,1,2,3,4,5,6,7,8,9],"range":[0,2,174,200,280,354,398,461,546,664,776],"zero":false,"nice":false,"padding":0},"axis":{"orient":"top","domain":true,"labels":false,"ticks":false,"title":null,"domainColor":"#555555","domainWidth":1.5}},"text":{"field":"study"}}},
  {"mark":{"type":"text","align":"right"},"encoding":{"x":{"datum":1,"type":"quantitative"},"text":{"field":"loghr"}}},
  {"mark":{"type":"text","align":"center"},"encoding":{"x":{"datum":2,"type":"quantitative"},"text":{"field":"se"}}},
  {"mark":{"type":"text","align":"center","dx":-10},"encoding":{"x":{"datum":3,"type":"quantitative"},"text":{"field":"n1"}}},
  {"mark":{"type":"text","align":"right","dx":6},"encoding":{"x":{"datum":4,"type":"quantitative"},"text":{"field":"n2"}}},
  {"mark":{"type":"text","align":"center","dx":-10,"dy":-6.5},"encoding":{"x":{"datum":5,"type":"quantitative"},"text":{"field":"w"}}},
  {"mark":{"type":"text","align":"center","dy":-6.5},"encoding":{"x":{"datum":6,"type":"quantitative"},"text":{"field":"hrci"}}},
  {"mark":{"type":"text","align":"right"},"encoding":{"x":{"datum":7,"type":"quantitative"},"text":{"field":"year"}}},
  {"mark":{"type":"text","align":"center","dy":-6.5},"encoding":{"x":{"datum":8,"type":"quantitative"},"text":{"field":"plot"}}}
 ]},
 {"width":776,"height":{"step":15.2},"data":{"name":"studies"},"transform":[{"filter":"datum.p=='G'"}],
  "encoding":{"y":{"field":"study","type":"nominal","sort":null,"scale":{"type":"band","paddingInner":0,"paddingOuter":0},"axis":null}},
  "layer":[
   {"layer":[
    {"mark":{"type":"rect"},"encoding":{"x":{"datum":-1,"type":"quantitative","scale":{"type":"linear","domain":[-1,0,1,2,3,4,5,6,7,8,9],"range":[0,2,174,200,280,354,398,461,546,664,776],"zero":false,"nice":false,"padding":0},"axis":null},"x2":{"datum":9},"color":{"condition":{"test":"datum.i%2==1","value":"#e8f1fa"},"value":"#ffffff"}}},
    {"mark":{"type":"text","align":"left"},"encoding":{"x":{"datum":0,"type":"quantitative","axis":null},"text":{"field":"study"}}},
    {"mark":{"type":"text","align":"right"},"encoding":{"x":{"datum":1,"type":"quantitative","axis":null},"text":{"field":"loghr","type":"quantitative","format":".4f"}}},
    {"mark":{"type":"text","align":"center"},"encoding":{"x":{"datum":2,"type":"quantitative","axis":null},"text":{"field":"se","type":"quantitative","format":".4f"}}},
    {"mark":{"type":"text","align":"right"},"encoding":{"x":{"datum":3,"type":"quantitative","axis":null},"text":{"field":"n1","type":"quantitative","format":","}}},
    {"mark":{"type":"text","align":"right"},"encoding":{"x":{"datum":4,"type":"quantitative","axis":null},"text":{"field":"n2","type":"quantitative","format":","}}},
    {"mark":{"type":"text","align":"right"},"encoding":{"x":{"datum":5,"type":"quantitative","axis":null},"text":{"field":"w","type":"quantitative","format":".1f"}}},
    {"mark":{"type":"text","align":"center"},"encoding":{"x":{"datum":6,"type":"quantitative","axis":null},"text":{"field":"hrci"}}},
    {"mark":{"type":"text","align":"right"},"encoding":{"x":{"datum":7,"type":"quantitative","axis":null},"text":{"field":"year"}}}
   ]},
   {"layer":[
    {"mark":{"type":"rule","color":"#333333"},"encoding":{"x":{"field":"lo","type":"quantitative","scale":{"type":"log","domain":[0.0068,165],"range":[563,776],"nice":false,"padding":0},"axis":null},"x2":{"field":"hi"}}},
    {"mark":{"type":"point","shape":"square","filled":true,"opacity":1,"color":"#1a96d4","strokeWidth":0},"encoding":{"x":{"field":"hr","type":"quantitative","axis":null},"size":{"field":"w","type":"quantitative","scale":{"type":"linear","domain":[0,100],"range":[0,130]},"legend":null}}},
    {"mark":{"type":"tick","orient":"vertical","color":"#222222","thickness":1,"size":15.4},"encoding":{"x":{"datum":1,"type":"quantitative","axis":null}}}
   ]}
  ],
  "resolve":{"scale":{"x":"independent"}}},
 {"width":776,"height":26,"data":{"name":"totals"},"transform":[{"filter":"datum.p=='G'"}],
  "layer":[
   {"layer":[
    {"mark":{"type":"text","align":"left","fontWeight":"bold"},"encoding":{"x":{"datum":0,"type":"quantitative","scale":{"type":"linear","domain":[-1,0,1,2,3,4,5,6,7,8,9],"range":[0,2,174,200,280,354,398,461,546,664,776],"zero":false,"nice":false,"padding":0},"axis":null},"text":{"value":"Total (95% CI)"}}},
    {"mark":{"type":"text","align":"right","fontWeight":"bold"},"encoding":{"x":{"datum":3,"type":"quantitative","axis":null},"text":{"field":"n1","type":"quantitative","format":","}}},
    {"mark":{"type":"text","align":"right","fontWeight":"bold"},"encoding":{"x":{"datum":4,"type":"quantitative","axis":null},"text":{"field":"n2","type":"quantitative","format":","}}},
    {"mark":{"type":"text","align":"right","fontWeight":"bold"},"encoding":{"x":{"datum":5,"type":"quantitative","axis":null},"text":{"field":"w","type":"quantitative","format":".1f"}}},
    {"mark":{"type":"text","align":"center","fontWeight":"bold"},"encoding":{"x":{"datum":6,"type":"quantitative","axis":null},"text":{"field":"hrci"}}}
   ]},
   {"layer":[
    {"transform":[{"fold":["lo","hr"],"as":["k","xa"]},{"fold":["hi","hr"],"as":["k2","xb"]},{"filter":"(datum.k=='lo'&&datum.k2=='hi')||(datum.k=='hr'&&datum.k2=='hr')"}],"mark":{"type":"area","orient":"horizontal","color":"#1a96d4","opacity":1},"encoding":{"y":{"field":"k","type":"nominal","scale":{"type":"point","domain":["hr","lo"],"range":[7.5,13],"padding":0},"axis":null},"x":{"field":"xa","type":"quantitative","scale":{"type":"log","domain":[0.0068,165],"range":[563,776],"nice":false,"padding":0}},"x2":{"field":"xb"}}},
    {"transform":[{"fold":["lo","hr"],"as":["k","xa"]},{"fold":["hi","hr"],"as":["k2","xb"]},{"filter":"(datum.k=='lo'&&datum.k2=='hi')||(datum.k=='hr'&&datum.k2=='hr')"}],"mark":{"type":"area","orient":"horizontal","color":"#1a96d4","opacity":1},"encoding":{"y":{"field":"k","type":"nominal","scale":{"type":"point","domain":["lo","hr"],"range":[13,18.5],"padding":0},"axis":null},"x":{"field":"xa","type":"quantitative"},"x2":{"field":"xb"}}},
    {"mark":{"type":"rule","color":"#222222"},"encoding":{"x":{"datum":1,"type":"quantitative","axis":{"orient":"bottom","values":[0.01,0.1,1,10,100],"format":"~g","domainColor":"#555555","domainWidth":1,"tickColor":"#555555","tickSize":5,"labelPadding":2,"labelFontSize":10,"labelColor":"#333333","labelFlush":false,"labelOverlap":false,"title":"Favours lymphadenectomy\u00a0\u00a0\u00a0\u00a0\u00a0\u00a0Favours control","titleFontSize":9,"titleFontWeight":"normal","titleColor":"#333333","titleAnchor":"start","titlePadding":3}}}}
   ],"resolve":{"scale":{"y":"independent"}}}
  ],
  "resolve":{"scale":{"x":"independent"}}},
 {"width":776,"height":30,"data":{"name":"foot"},"transform":[{"filter":"datum.p=='G'"}],
  "layer":[
   {"mark":{"type":"text","align":"left","fontSize":9.2},"encoding":{"x":{"datum":0,"type":"quantitative","scale":{"type":"linear","domain":[-1,0,1],"range":[0,2,553],"zero":false,"nice":false,"padding":0},"axis":{"orient":"top","domain":true,"labels":false,"ticks":false,"title":null,"domainColor":"#666666","domainWidth":1.5}},"y":{"datum":"het","type":"nominal","scale":{"type":"band","domain":["het","test"],"paddingInner":0,"paddingOuter":0.25},"axis":null},"text":{"field":"het"}}},
   {"mark":{"type":"text","align":"left","fontSize":9.2},"encoding":{"x":{"datum":0,"type":"quantitative"},"y":{"datum":"test","type":"nominal","axis":null},"text":{"field":"test"}}}
  ]}
]}
]
}
